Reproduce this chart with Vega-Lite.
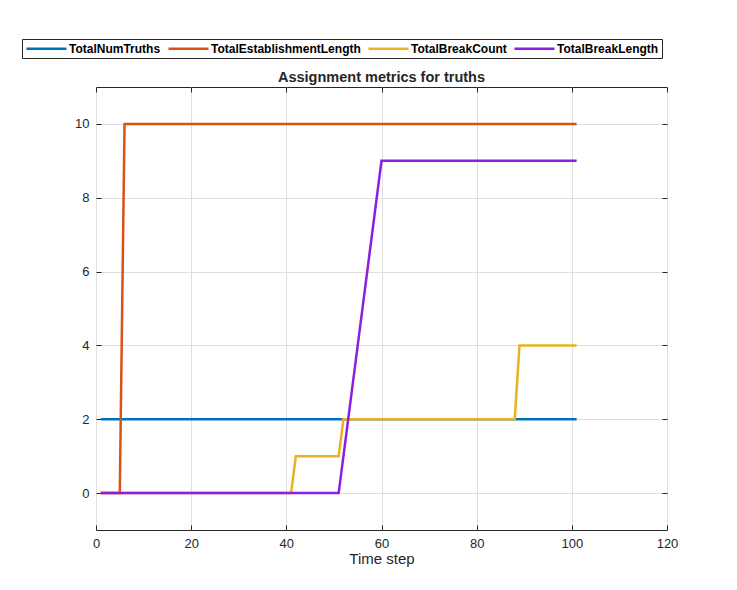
{
  "$schema": "https://vega.github.io/schema/vega-lite/v6.json",
  "autosize": {"type": "none"},
  "padding": {"left": 96, "top": 87, "right": 70, "bottom": 60},
  "width": 571,
  "height": 443,
  "background": "white",
  "title": {
    "text": "Assignment metrics for truths",
    "font": "Liberation Sans", "fontSize": 14.5, "fontWeight": "bold",
    "color": "#262626", "anchor": "middle", "offset": 4, "dy": 51
  },
  "data": {
    "values": [
      {"step": 1, "value": 2, "series": "TotalNumTruths"},
      {"step": 101, "value": 2, "series": "TotalNumTruths"},
      {"step": 1, "value": 0, "series": "TotalEstablishmentLength"},
      {"step": 5, "value": 0, "series": "TotalEstablishmentLength"},
      {"step": 6, "value": 10, "series": "TotalEstablishmentLength"},
      {"step": 101, "value": 10, "series": "TotalEstablishmentLength"},
      {"step": 1, "value": 0, "series": "TotalBreakCount"},
      {"step": 41, "value": 0, "series": "TotalBreakCount"},
      {"step": 42, "value": 1, "series": "TotalBreakCount"},
      {"step": 51, "value": 1, "series": "TotalBreakCount"},
      {"step": 52, "value": 2, "series": "TotalBreakCount"},
      {"step": 88, "value": 2, "series": "TotalBreakCount"},
      {"step": 89, "value": 4, "series": "TotalBreakCount"},
      {"step": 101, "value": 4, "series": "TotalBreakCount"},
      {"step": 1, "value": 0, "series": "TotalBreakLength"},
      {"step": 51, "value": 0, "series": "TotalBreakLength"},
      {"step": 60, "value": 9, "series": "TotalBreakLength"},
      {"step": 101, "value": 9, "series": "TotalBreakLength"}
    ]
  },
  "resolve": {"axis": {"x": "independent", "y": "independent"}},
  "layer": [
    {
      "mark": {"type": "line", "strokeWidth": 2.5, "clip": true},
      "encoding": {
        "x": {
          "field": "step", "type": "quantitative",
          "scale": {"domain": [0, 120], "nice": false},
          "axis": {
            "values": [0, 20, 40, 60, 80, 100, 120],
            "title": "Time step", "titleFontSize": 15, "titleFontWeight": "normal",
            "titleFont": "Liberation Sans", "titleColor": "#262626", "titlePadding": 1,
            "labelFont": "Liberation Sans", "labelFontSize": 13, "labelColor": "#262626",
            "labelPadding": 12, "labelFlush": false, "tickSize": -5, "tickColor": "#262626",
            "domain": false, "grid": true, "gridColor": "#dfdfdf"
          }
        },
        "y": {
          "field": "value", "type": "quantitative",
          "scale": {"domain": [-1, 11], "nice": false, "zero": false},
          "axis": {
            "values": [0, 2, 4, 6, 8, 10],
            "title": null,
            "labelFont": "Liberation Sans", "labelFontSize": 13, "labelColor": "#262626",
            "labelPadding": 12, "labelFlush": false, "tickSize": -5, "tickColor": "#262626",
            "domain": false, "grid": true, "gridColor": "#dfdfdf"
          }
        },
        "color": {
          "field": "series", "type": "nominal",
          "scale": {
            "domain": ["TotalNumTruths", "TotalEstablishmentLength", "TotalBreakCount", "TotalBreakLength"],
            "range": ["#0072bd", "#d95319", "#edb120", "#8a1fe0"]
          },
          "legend": {
            "orient": "none", "legendX": -74, "legendY": -48,
            "direction": "horizontal", "title": null,
            "symbolType": "M-4,0H4", "symbolSize": 100, "symbolStrokeWidth": 2.5,
            "symbolOffset": 15, "labelOffset": 16,
            "labelFont": "Liberation Sans", "labelFontWeight": "bold",
            "labelFontSize": 12, "labelColor": "#000000",
            "strokeColor": "#262626", "padding": 3, "columnPadding": 2
          }
        }
      }
    },
    {
      "mark": {"type": "point", "opacity": 0},
      "encoding": {
        "x": {
          "field": "step", "type": "quantitative",
          "axis": {"orient": "top", "values": [0, 20, 40, 60, 80, 100, 120], "labels": false, "title": null,
                   "tickSize": -5, "tickColor": "#262626", "domain": false, "grid": false}
        },
        "y": {
          "field": "value", "type": "quantitative",
          "axis": {"orient": "right", "values": [0, 2, 4, 6, 8, 10], "labels": false, "title": null,
                   "tickSize": -5, "tickColor": "#262626", "domain": false, "grid": false}
        }
      }
    }
  ],
  "config": {
    "view": {"stroke": "#262626", "strokeWidth": 1}
  }
}
